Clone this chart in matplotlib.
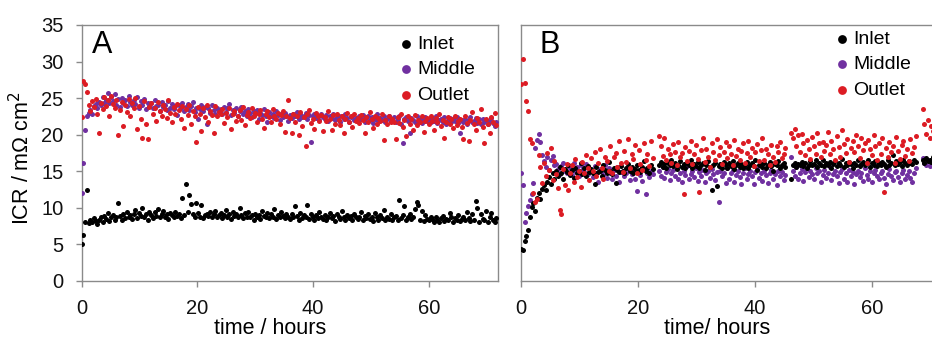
import numpy as np
import matplotlib
matplotlib.use("Agg")
import matplotlib.pyplot as plt

plt.rcParams['font.family'] = ['Liberation Sans', 'DejaVu Sans']

# ---------------- data ----------------
series_names = ["Inlet", "Middle", "Outlet"]
series_colors = ["#000000", "#7030A0", "#DC1C24"]
dt_h = 0.3  # sampling interval (hours)

# Panel A (continuous run starting at t = 0 h)
inlet_a = [
    5.0, 6.3, 8.1, 12.4, 7.9, 8.3, 8.0, 8.6, 8.2, 7.8, 8.4, 8.7, 8.1, 8.9, 8.5, 9.3, 8.2, 8.8, 9.0, 8.4,
    8.7, 10.6, 8.9, 8.3, 9.2, 8.6, 9.4, 8.8, 9.0, 8.5, 9.1, 9.7, 8.6, 9.3, 8.9, 10.0, 8.7, 9.2, 8.4, 9.5,
    9.0, 8.6, 9.4, 8.9, 9.8, 8.7, 9.2, 9.6, 8.8, 9.1, 8.5, 9.3, 9.0, 8.7, 9.5, 8.9, 9.2, 8.6, 11.3, 9.0,
    13.2, 9.4, 11.8, 10.5, 9.1, 8.8, 10.6, 9.3, 8.7, 10.4, 8.6, 9.0, 9.2, 8.9, 9.5, 8.7, 9.1, 9.6, 8.8, 9.0,
    9.3, 8.6, 9.0, 9.7, 8.8, 9.2, 8.5, 9.4, 8.9, 9.1, 8.7, 10.0, 9.0, 8.6, 9.3, 8.8, 9.5, 8.7, 9.0, 8.4,
    9.2, 8.8, 9.0, 8.5, 9.6, 8.9, 8.7, 9.3, 8.6, 9.1, 8.8, 9.8, 8.5, 9.0, 8.7, 9.4, 8.9, 8.6, 9.2, 8.8,
    8.5, 9.1, 8.7, 10.2, 8.9, 8.4, 9.3, 8.6, 9.0, 8.8, 10.4, 8.5, 9.2, 8.7, 8.3, 9.0, 8.6, 9.4, 8.8, 8.5,
    9.0, 8.4, 8.8, 9.3, 8.6, 8.9, 8.2, 9.1, 8.7, 8.5, 9.6, 8.8, 8.3, 9.0, 8.6, 8.9, 8.4, 9.2, 8.7, 8.5,
    8.8, 9.4, 8.3, 8.9, 8.6, 9.1, 8.5, 8.8, 8.2, 9.3, 8.7, 8.4, 9.0, 8.6, 9.7, 8.3, 8.8, 8.5, 9.1, 8.4,
    8.7, 8.9, 8.3, 11.1, 8.6, 9.0, 10.3, 8.4, 8.8, 9.2, 8.5, 8.7, 9.8, 10.8, 10.4, 8.3, 9.6, 8.2, 9.0, 8.5,
    8.3, 8.8, 8.5, 8.1, 8.7, 8.4, 8.0, 8.6, 8.9, 8.2, 8.5, 8.3, 9.3, 8.7, 8.1, 8.6, 8.4, 9.0, 8.2, 8.5,
    8.8, 8.3, 9.5, 8.6, 8.2, 9.2, 8.4, 10.9, 10.0, 8.1, 9.1, 8.5, 8.3, 9.6, 8.0, 8.7, 9.3, 8.4, 8.1, 8.6,
]
middle_a = [
    12.0, 16.2, 20.6, 22.6, 23.0, 23.4, 22.8, 23.9, 24.2, 23.6, 24.5, 24.0, 25.1, 24.3, 24.8, 25.7, 24.4, 25.2, 24.6, 25.5,
    24.1, 24.9, 23.8, 25.0, 24.3, 24.7, 23.9, 25.3, 24.5, 24.0, 24.8, 24.2, 25.2, 23.7, 24.6, 24.1, 24.9, 23.5, 24.4, 23.9,
    24.3, 23.6, 24.7, 23.9, 24.1, 23.3, 24.5, 23.8, 24.0, 23.4, 24.6, 23.7, 24.2, 23.5, 23.9, 22.7, 24.1, 23.6, 24.3, 23.2,
    23.8, 24.2, 23.4, 23.9, 24.5, 23.1, 23.7, 22.2, 23.5, 24.0, 23.3, 23.8, 21.5, 23.6, 23.0, 24.1, 23.4, 22.8, 23.7, 23.2,
    23.5, 22.9, 23.8, 23.1, 23.6, 24.2, 22.7, 23.4, 23.0, 23.7, 22.5, 23.3, 23.8, 22.9, 23.2, 22.6, 23.5, 23.0, 22.4, 23.3,
    22.8, 23.4, 22.2, 23.0, 22.7, 23.5, 22.5, 21.8, 23.1, 22.6, 22.9, 22.3, 23.2, 22.7, 22.0, 22.8, 22.4, 23.0, 22.6, 21.9,
    22.7, 22.3, 22.9, 22.5, 23.1, 22.2, 22.8, 22.4, 22.6, 23.0, 22.1, 22.7, 19.0, 22.5, 22.9, 22.3, 22.6, 22.0, 22.8, 22.4,
    22.2, 22.7, 21.9, 22.5, 22.3, 22.8, 22.0, 22.4, 22.6, 21.8, 22.5, 22.1, 22.9, 22.3, 21.7, 22.4, 22.6, 22.0, 22.3, 21.9,
    22.5, 22.1, 22.7, 21.8, 22.3, 22.6, 22.0, 22.4, 21.6, 22.2, 22.8, 21.9, 22.3, 22.0, 22.5, 21.7, 22.2, 22.6, 21.9, 22.1,
    22.4, 21.8, 22.2, 22.6, 21.5, 18.8, 22.1, 22.4, 21.9, 20.2, 22.3, 22.0, 21.7, 22.5, 21.8, 22.2, 21.6, 22.0, 22.4, 21.9,
    22.1, 21.7, 22.3, 21.9, 22.5, 21.6, 22.0, 22.2, 21.8, 22.4, 21.5, 22.0, 22.3, 21.7, 22.1, 21.9, 22.4, 21.6, 20.2, 22.0,
    21.8, 22.2, 21.5, 22.0, 22.4, 21.7, 21.9, 22.3, 21.6, 22.1, 21.4, 22.2, 21.8, 22.0, 21.5, 21.9, 22.3, 21.6, 21.2, 21.8,
]
outlet_a = [
    22.4, 27.3, 26.9, 25.8, 24.1, 23.2, 24.6, 23.8, 24.9, 22.9, 20.3, 24.4, 23.5, 25.1, 23.9, 24.7, 22.6, 25.3, 24.2, 23.7,
    24.8, 19.9, 23.4, 24.5, 21.2, 24.0, 23.1, 24.9, 22.5, 24.3, 23.6, 25.0, 20.8, 23.9, 22.2, 19.6, 24.6, 21.5, 19.4, 23.8,
    24.4, 22.8, 23.7, 21.9, 24.5, 23.2, 22.6, 24.1, 23.5, 22.3, 24.8, 23.0, 21.7, 23.8, 22.9, 24.2, 23.4, 22.1, 23.9, 20.9,
    23.5, 22.7, 24.0, 21.4, 23.3, 22.6, 19.0, 23.8, 22.9, 20.5, 23.6, 22.4, 24.1, 21.8, 23.2, 22.7, 20.2, 23.9, 22.5, 23.1,
    22.8, 23.5, 21.6, 23.0, 22.4, 23.7, 20.8, 22.9, 23.3, 21.9, 22.6, 23.4, 22.0, 23.8, 21.3, 22.7, 23.1, 22.3, 23.6, 22.5,
    23.0, 21.7, 22.8, 23.4, 22.2, 20.9, 22.9, 23.2, 22.4, 21.8, 23.5, 22.6, 22.1, 23.0, 21.4, 22.7, 23.3, 20.4, 22.5, 24.8,
    22.3, 20.2, 22.9, 21.8, 22.6, 19.9, 23.1, 21.2, 22.4, 18.5, 22.8, 23.4, 21.6, 22.2, 20.8, 23.0, 22.5, 21.9, 22.7, 20.5,
    22.4, 21.9, 23.2, 22.1, 20.6, 22.7, 21.5, 22.9, 22.0, 21.3, 22.6, 20.3, 22.2, 23.0, 21.7, 22.5, 21.0, 22.8, 21.9, 22.3,
    21.6, 22.7, 22.0, 20.2, 22.4, 21.8, 23.1, 22.1, 20.9, 22.6, 21.5, 22.3, 21.9, 22.8, 19.3, 22.0, 21.4, 22.5, 21.7, 22.2,
    21.8, 19.4, 22.4, 21.6, 22.9, 21.1, 22.0, 19.8, 22.6, 21.5, 22.2, 20.7, 22.7, 21.3, 22.0, 21.8, 22.5, 20.4, 21.9, 22.3,
    21.4, 22.6, 21.9, 20.6, 22.3, 21.7, 22.8, 21.2, 22.0, 19.5, 21.8, 22.4, 21.5, 22.1, 20.9, 22.6, 21.3, 21.9, 22.2, 21.0,
    19.4, 22.5, 21.6, 19.2, 22.0, 23.1, 21.4, 20.6, 22.3, 21.8, 23.5, 21.1, 18.8, 22.1, 21.5, 20.3, 22.4, 21.7, 23.0, 21.3,
]

# Panel B (four measurement segments, start times in hours)
seg_start_b = [0.0, 23.6, 46.2, 68.7]
inlet_b = [
    [4.4, 4.3, 5.5, 6.2, 7.0, 8.8, 10.1, 10.7, 9.6, 11.4, 12.0, 11.2, 12.6, 13.1, 12.4, 13.6, 14.2, 13.3, 14.8, 13.9,
     15.1, 14.4, 15.6, 14.7, 13.9, 15.3, 14.9, 15.8, 14.5, 15.2, 14.1, 15.5, 14.8, 15.0, 16.2, 14.6, 15.4, 14.3, 15.7, 14.9,
     15.3, 14.7, 13.2, 15.6, 14.9, 15.1, 14.4, 15.8, 15.2, 14.8, 16.3, 15.0, 14.6, 15.5, 13.4, 15.2, 14.9, 15.7, 15.1, 14.7,
     15.4, 16.0, 15.0, 15.6, 14.8, 15.3, 15.9, 15.2, 14.9, 15.6, 16.4, 15.1, 15.5, 14.7, 15.8, 15.3],
    [15.9, 16.3, 15.6, 16.0, 15.4, 16.2, 15.8, 16.5, 15.7, 16.1, 15.3, 15.9, 16.4, 15.6, 16.0, 15.5, 16.2, 15.8, 16.6, 15.4,
     16.0, 15.7, 16.3, 15.5, 15.9, 16.1, 15.2, 15.8, 16.4, 15.6, 12.4, 15.9, 16.2, 13.0, 15.7, 16.0, 15.4, 16.3, 15.8, 15.5,
     16.1, 15.7, 16.4, 15.3, 15.9, 16.2, 15.6, 16.0, 15.4, 15.8, 16.3, 15.5, 15.9, 16.1, 15.7, 16.6, 15.2, 15.8, 16.0, 15.6,
     16.2, 15.4, 15.9, 16.3, 15.7, 15.1, 16.0, 15.8, 16.4, 15.5, 15.9, 16.1, 15.6],
    [14.0, 15.8, 16.2, 15.6, 16.0, 15.9, 16.3, 15.7, 16.1, 15.5, 15.9, 16.4, 15.8, 16.0, 16.5, 15.6, 16.2, 15.9, 16.6, 15.7,
     16.1, 15.8, 16.3, 15.5, 16.0, 16.4, 15.7, 16.2, 15.9, 16.7, 15.6, 16.1, 15.8, 16.3, 16.0, 15.5, 16.2, 15.9, 16.5, 15.7,
     16.0, 16.3, 15.8, 16.1, 16.6, 15.6, 16.2, 15.9, 16.4, 15.7, 16.1, 15.8, 16.3, 16.0, 15.6, 16.5, 15.9, 16.2, 17.2, 15.8,
     16.4, 16.0, 16.3, 15.7, 16.6, 16.1, 15.9, 16.4, 16.2, 16.0, 16.5, 16.3],
    [16.5, 16.2, 16.8, 16.4, 16.6, 16.3, 16.9, 16.5],
]
middle_b = [
    [14.7, 13.1, 8.1, 9.3, 10.2, 11.1, 11.9, 13.4, 18.2, 19.3, 20.1, 19.0, 17.2, 16.4, 15.6, 16.9, 15.2, 16.5, 17.1, 15.8,
     16.0, 15.3, 14.6, 15.7, 16.2, 15.1, 14.8, 15.9, 15.4, 14.5, 16.1, 15.0, 15.6, 14.3, 15.8, 15.2, 14.9, 16.0, 14.6, 15.4,
     15.1, 14.2, 15.7, 14.8, 13.6, 15.3, 15.0, 14.5, 15.9, 14.1, 15.4, 14.7, 13.9, 15.2, 14.4, 15.6, 13.5, 14.9, 15.1, 14.3,
     14.8, 15.5, 13.8, 14.6, 15.2, 14.0, 12.3, 15.0, 14.5, 13.7, 15.3, 11.9, 14.8, 14.2, 15.1, 14.6],
    [15.0, 14.4, 15.6, 14.1, 14.9, 15.3, 13.8, 14.7, 15.2, 14.3, 15.5, 14.0, 14.8, 13.6, 15.1, 14.5, 15.7, 13.9, 14.6, 15.0,
     14.2, 15.4, 13.7, 14.9, 14.4, 15.2, 13.5, 14.7, 15.0, 14.1, 15.3, 14.6, 13.8, 14.9, 10.8, 15.1, 14.3, 14.8, 13.4, 15.5,
     14.0, 14.7, 15.2, 13.6, 14.5, 15.0, 14.2, 13.3, 14.8, 15.4, 13.9, 14.6, 15.1, 14.4, 13.2, 14.9, 15.3, 14.1, 14.7, 13.7,
     15.0, 14.5, 13.4, 14.8, 15.2, 14.0, 14.6, 13.1, 15.1, 14.3, 14.9, 13.8, 14.5],
    [17.0, 15.1, 14.4, 15.6, 14.0, 14.8, 15.3, 13.7, 14.9, 15.5, 14.2, 15.0, 14.6, 13.9, 15.4, 14.7, 15.1, 13.6, 14.5, 15.2,
     14.1, 14.8, 15.6, 13.8, 14.6, 15.0, 14.3, 13.4, 14.9, 15.3, 14.0, 14.7, 13.5, 15.2, 14.4, 14.9, 13.2, 14.6, 15.1, 14.2,
     14.8, 13.7, 15.4, 14.5, 14.0, 15.0, 13.6, 14.7, 15.2, 14.3, 13.9, 14.8, 15.1, 14.1, 13.3, 14.6, 15.3, 14.4, 13.8, 14.9,
     15.0, 14.2, 13.5, 14.7, 15.2, 13.9, 14.5, 15.0, 14.1, 13.6, 14.8, 15.4],
    [16.8, 16.2, 15.9, 16.5, 15.7, 16.1, 15.8, 16.4],
]
outlet_b = [
    [27.0, 30.4, 27.1, 24.6, 23.2, 19.4, 18.8, 12.0, 10.8, 11.2, 17.2, 15.6, 13.4, 16.1, 14.3, 17.5, 15.2, 18.2, 13.8, 16.4,
     14.6, 12.7, 9.7, 9.2, 15.3, 13.1, 16.0, 12.4, 14.8, 15.9, 13.6, 16.7, 14.2, 15.1, 12.9, 16.3, 14.7, 17.2, 15.5, 13.8,
     16.8, 15.0, 17.6, 14.4, 16.2, 18.1, 15.4, 13.9, 17.0, 16.4, 15.1, 18.4, 14.7, 16.9, 17.5, 15.6, 19.2, 16.1, 14.9, 17.8,
     16.3, 19.4, 15.4, 17.3, 16.7, 18.6, 14.8, 17.9, 16.0, 15.2, 18.9, 16.6, 17.4, 15.7, 19.1, 16.8],
    [19.8, 18.4, 17.1, 19.5, 16.6, 18.0, 17.4, 16.1, 18.7, 17.7, 15.8, 19.0, 16.9, 17.5, 11.9, 18.3, 16.4, 17.8, 19.2, 16.0,
     17.3, 18.6, 16.7, 12.2, 17.9, 19.6, 16.3, 18.1, 17.0, 15.6, 18.8, 17.6, 16.5, 19.4, 17.2, 18.3, 16.0, 17.7, 19.0, 16.8,
     18.5, 17.4, 15.9, 19.3, 17.1, 18.0, 16.6, 17.8, 18.9, 16.2, 17.5, 19.1, 16.9, 18.2, 15.7, 17.6, 18.7, 16.4, 17.9, 19.5,
     16.6, 18.1, 17.3, 15.8, 18.6, 17.0, 16.3, 18.4, 17.6, 19.0, 16.8, 17.4, 18.2],
    [20.3, 19.6, 20.8, 18.4, 19.9, 17.6, 20.1, 18.8, 17.2, 19.3, 18.0, 16.7, 19.7, 18.5, 17.4, 20.2, 18.9, 16.9, 19.0, 17.8,
     18.6, 20.4, 17.3, 19.2, 18.1, 16.5, 19.8, 18.3, 17.0, 20.6, 18.7, 17.5, 19.4, 16.3, 18.2, 19.1, 17.7, 20.0, 18.4, 16.8,
     19.5, 17.9, 18.8, 16.1, 19.3, 18.0, 17.2, 19.9, 18.5, 16.6, 18.9, 17.4, 19.6, 12.1, 18.2, 16.9, 19.0, 17.6, 18.4, 16.2,
     19.7, 17.8, 16.7, 18.6, 19.2, 17.1, 18.0, 16.4, 19.4, 17.5, 18.3, 19.8],
    [23.5, 21.5, 20.1, 22.0, 19.6, 21.2, 20.5, 22.4],
]

x_ticks = [0, 20, 40, 60]
y_ticks = [0, 5, 10, 15, 20, 25, 30, 35]

# ---------------- figure ----------------
W, H = 932, 341
fig = plt.figure(figsize=(W / 100, H / 100), dpi=100)

def px_axes(x0, y_top, x1, y_bot):
    return fig.add_axes([x0 / W, 1 - y_bot / H, (x1 - x0) / W, (y_bot - y_top) / H])

axA = px_axes(81.7, 25, 498.2, 281)
axB = px_axes(521, 25, 942, 281)

spine_col = "#8a8a8a"
msize = 13

def seg_times(start, n):
    return start + dt_h * np.arange(n)

# Panel A
handlesA = []
for vals, name, col in zip([inlet_a, middle_a, outlet_a], series_names, series_colors):
    t = seg_times(0.0, len(vals))
    h = axA.scatter(t, vals, s=msize, color=col, linewidths=0, label=name, zorder=3)
    handlesA.append(h)

# Panel B (Middle drawn under Inlet, Outlet on top)
hB = {}
for key, data in [("Middle", middle_b), ("Inlet", inlet_b), ("Outlet", outlet_b)]:
    col = series_colors[series_names.index(key)]
    ts = np.concatenate([seg_times(s, len(v)) for s, v in zip(seg_start_b, data)])
    vs = np.concatenate([np.asarray(v, float) for v in data])
    hB[key] = axB.scatter(ts, vs, s=msize, color=col, linewidths=0, label=key, zorder=3)
handlesB = [hB[n] for n in series_names]

for ax in (axA, axB):
    ax.set_xlim(0, 72)
    ax.set_ylim(0, 35)
    ax.set_xticks(x_ticks)
    ax.set_yticks(y_ticks)
    for sp in ax.spines.values():
        sp.set_color(spine_col)
        sp.set_linewidth(1.0)
    ax.tick_params(axis="both", direction="out", length=4.2, width=1.0, color=spine_col,
                   labelsize=14.5, labelcolor="#111111")
    ax.tick_params(axis="x", pad=9)
    ax.tick_params(axis="y", pad=9)

axB.spines["right"].set_visible(False)
axB.tick_params(axis="y", left=False, labelleft=False)

# Panel letters
fig.text(92 / W, 1 - 53 / H, "A", fontsize=22, ha="left", va="baseline")
fig.text(539 / W, 1 - 53 / H, "B", fontsize=22, ha="left", va="baseline")

# Axis labels
fig.text(270 / W, 1 - 329 / H, "time / hours", fontsize=15.5, ha="center", va="center")
fig.text(717 / W, 1 - 329 / H, "time/ hours", fontsize=15.5, ha="center", va="center")
fig.text(22 / W, 1 - 158 / H, "ICR / m\u03A9 cm$^{2}$", fontsize=15.5, rotation=90,
         ha="center", va="center")

# Legends
leg_kw = dict(frameon=False, fontsize=14, handlelength=0.6,
              handletextpad=0.3, labelspacing=0.42, borderpad=0, borderaxespad=0,
              loc="upper left", scatterpoints=1)
legA = axA.legend(handlesA, series_names, bbox_to_anchor=(400 / W, 1 - 35 / H),
                  bbox_transform=fig.transFigure, **leg_kw)
legB = axB.legend(handlesB, series_names, bbox_to_anchor=(836 / W, 1 - 30 / H),
                  bbox_transform=fig.transFigure, **leg_kw)
for leg in (legA, legB):
    for h in leg.legend_handles:
        h.set_sizes([40])

fig.savefig("out.png", dpi=100)
